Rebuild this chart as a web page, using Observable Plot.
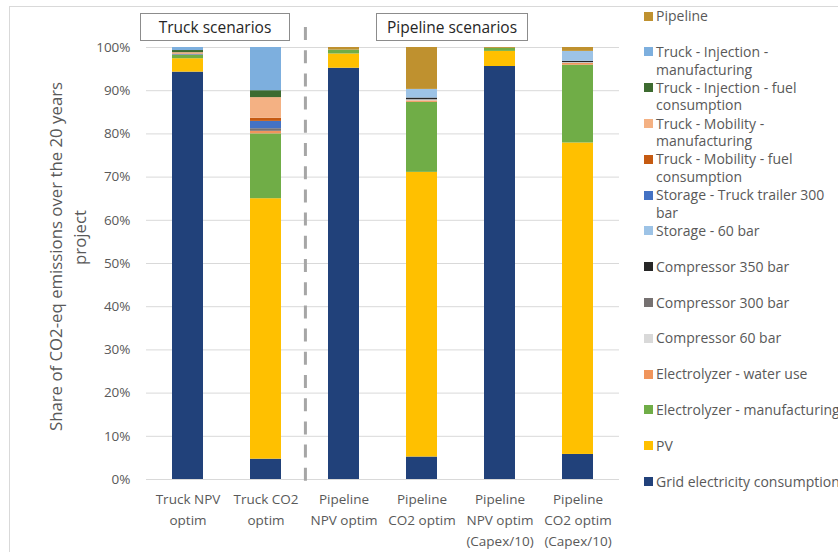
<!DOCTYPE html>
<html>
<head>
<meta charset="utf-8">
<script src="https://cdn.jsdelivr.net/npm/d3@7"></script>
<script src="https://cdn.jsdelivr.net/npm/@observablehq/plot@0.6"></script>
<style>
  body { margin: 0; background: #fff; }
  #wrap { position: relative; width: 838px; height: 552px; overflow: hidden; background: #fff;
          font-family: "Open Sans", sans-serif; color: #595959; }
  #frame { position: absolute; left: 9px; top: 6px; right: -10px; bottom: -10px;
           border-left: 1px solid #D9D9D9; border-top: 1px solid #D9D9D9; pointer-events: none; }
  #chart { position: absolute; left: 0; top: 0; }
  .ytitle { position: absolute; font-size: 16.8px; white-space: nowrap; transform-origin: center center; }
  .group { position: absolute; top: 13px; height: 26px; border: 1px solid #8C8C8C; background: #fff;
           font-size: 15.5px; line-height: 26px; text-align: center; color: #262626; box-sizing: content-box; }
  .legend-item { position: absolute; left: 644px; font-size: 14px; line-height: 17.8px; white-space: nowrap; }
  .legend-item .sw { position: absolute; left: 0; top: 4.5px; width: 9px; height: 9px; }
  .legend-item .tx { position: absolute; left: 12px; top: 0; }
</style>
</head>
<body>
<div id="wrap"><div id="frame"></div></div>
<script>
// Scenarios along the x axis and their printed labels
const scenarios = [
  "Truck NPV optim", "Truck CO2 optim", "Pipeline NPV optim",
  "Pipeline CO2 optim", "Pipeline NPV optim (Capex/10)", "Pipeline CO2 optim (Capex/10)"
];
const scenarioLabels = [
  "Truck NPV\noptim", "Truck CO2\noptim", "Pipeline\nNPV optim",
  "Pipeline\nCO2 optim", "Pipeline\nNPV optim\n(Capex/10)", "Pipeline\nCO2 optim\n(Capex/10)"
];

// Emission sources, listed top of legend first (stacked the other way round)
const sources = [
  "Pipeline",
  "Truck - Injection - manufacturing",
  "Truck - Injection - fuel consumption",
  "Truck - Mobility - manufacturing",
  "Truck - Mobility - fuel consumption",
  "Storage - Truck trailer 300 bar",
  "Storage - 60 bar",
  "Compressor 350 bar",
  "Compressor 300 bar",
  "Compressor 60 bar",
  "Electrolyzer - water use",
  "Electrolyzer - manufacturing",
  "PV",
  "Grid electricity consumption"
];
const legendLines = [
  ["Pipeline"],
  ["Truck - Injection -", "manufacturing"],
  ["Truck - Injection - fuel", "consumption"],
  ["Truck - Mobility -", "manufacturing"],
  ["Truck - Mobility - fuel", "consumption"],
  ["Storage - Truck trailer 300", "bar"],
  ["Storage - 60 bar"],
  ["Compressor 350 bar"],
  ["Compressor 300 bar"],
  ["Compressor 60 bar"],
  ["Electrolyzer - water use"],
  ["Electrolyzer - manufacturing"],
  ["PV"],
  ["Grid electricity consumption"]
];
const colors = [
  "#BF912F", "#7DAFDE", "#3D6B30", "#F4B183", "#C55A11", "#4472C4", "#9DC3E6",
  "#262626", "#767171", "#D9D9D9", "#F0955C", "#70AD47", "#FFC000", "#21417A"
];

// Share of CO2-eq emissions (%) per source, in scenario order
const pipeline             = [0,    0,    0.6,  9.7,  0.2,  0.9];
const truckInjectionManuf  = [0.7,  10.0, 0,    0,    0,    0];
const truckInjectionFuel   = [0.5,  1.6,  0,    0,    0,    0];
const truckMobilityManuf   = [0.3,  4.8,  0,    0,    0,    0];
const truckMobilityFuel    = [0.1,  0.7,  0,    0,    0,    0];
const storageTrailer300    = [0.1,  1.7,  0,    0,    0,    0];
const storage60            = [0,    0,    0,    2.0,  0,    2.3];
const compressor350        = [0,    0,    0,    0.4,  0,    0.3];
const compressor300        = [0.1,  0.6,  0,    0,    0,    0];
const compressor60         = [0,    0,    0,    0.25, 0,    0.2];
const electrolyzerWater    = [0,    0.6,  0,    0.35, 0,    0.4];
const electrolyzerManuf    = [0.8,  15.0, 0.9,  16.2, 0.7,  18.0];
const pv                   = [3.1,  60.3, 3.3,  65.9, 3.5,  72.1];
const gridElectricity      = [94.3, 4.7,  95.2, 5.2,  95.6, 5.8];

const seriesValues = [
  pipeline, truckInjectionManuf, truckInjectionFuel, truckMobilityManuf, truckMobilityFuel,
  storageTrailer300, storage60, compressor350, compressor300, compressor60,
  electrolyzerWater, electrolyzerManuf, pv, gridElectricity
];

const yTicks = [0, 10, 20, 30, 40, 50, 60, 70, 80, 90, 100];

// Long table, bottom segment first so the stack follows input order
const rows = [];
for (let s = sources.length - 1; s >= 0; --s) {
  scenarios.forEach((sc, i) => rows.push({scenario: sc, source: sources[s], value: seriesValues[s][i]}));
}

const W = 838, H = 552, mL = 146, mR = 219, mT = 47, mB = 73;
const step = (W - mL - mR) / scenarios.length;

const chart = Plot.plot({
  width: W, height: H,
  marginLeft: mL, marginRight: mR, marginTop: mT, marginBottom: mB,
  style: {fontFamily: "Open Sans, sans-serif", fontSize: "13.5px", color: "#595959", background: "transparent", overflow: "visible"},
  x: {domain: scenarios, paddingInner: 0.6, paddingOuter: 0.3, label: null},
  y: {domain: [0, 100], label: null},
  color: {domain: sources, range: colors},
  marks: [
    Plot.gridY(yTicks, {stroke: "#D9D9D9", strokeOpacity: 1}),
    Plot.axisY(yTicks, {tickSize: 0, tickPadding: 16, tickFormat: d => d + "%", label: null, fill: "#595959"}),
    Plot.axisX({tickSize: 0, tickPadding: 10, lineHeight: 1.55, label: null, fill: "#595959",
                tickFormat: d => scenarioLabels[scenarios.indexOf(d)]}),
    Plot.barY(rows, {x: "scenario", y: "value", fill: "source"}),
    // divider between the truck and pipeline groups
    Plot.ruleX([scenarios[1]], {dx: step / 2, stroke: "#A6A6A6", strokeWidth: 3,
                strokeDasharray: "13,10.2", insetTop: -20, insetBottom: -2})
  ]
});
chart.id = "chart";
const wrap = document.getElementById("wrap");
wrap.appendChild(chart);

// Axis title, two rotated lines
[["Share of CO2-eq emissions over the 20 years", 55, 256], ["project", 79, 237]].forEach(([t, cx, cy]) => {
  const d = document.createElement("div");
  d.className = "ytitle";
  d.textContent = t;
  wrap.appendChild(d);
  const w = d.offsetWidth, h = d.offsetHeight;
  d.style.left = (cx - w / 2) + "px";
  d.style.top = (cy - h / 2) + "px";
  d.style.transform = "rotate(-90deg)";
});

// Group captions above the bars
[["Truck scenarios", 140, 150], ["Pipeline scenarios", 376, 152]].forEach(([t, left, w]) => {
  const d = document.createElement("div");
  d.className = "group";
  d.textContent = t;
  d.style.left = left + "px";
  d.style.width = (w - 2) + "px";
  wrap.appendChild(d);
});

// Legend on the right
sources.forEach((s, i) => {
  const item = document.createElement("div");
  item.className = "legend-item";
  item.style.top = (16 + 35.8 * i - 8.9) + "px";
  const sw = document.createElement("div");
  sw.className = "sw";
  sw.style.background = colors[i];
  const tx = document.createElement("div");
  tx.className = "tx";
  tx.innerHTML = legendLines[i].join("<br>");
  item.appendChild(sw);
  item.appendChild(tx);
  wrap.appendChild(item);
});
</script>
</body>
</html>
